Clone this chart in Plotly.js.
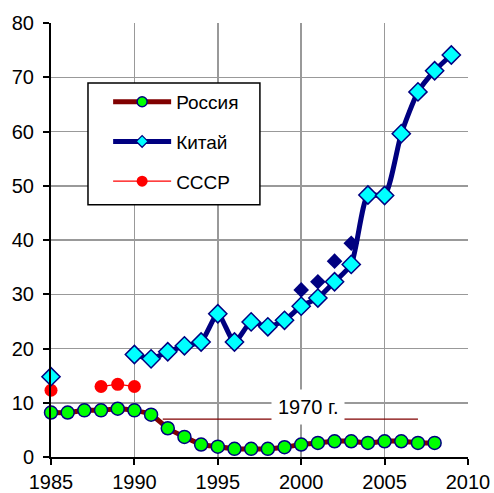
<!DOCTYPE html>
<html><head><meta charset="utf-8">
<script src="https://cdn.plot.ly/plotly-3.0.1.min.js"></script>
<style>html,body{margin:0;padding:0;background:#fff}#c{width:494px;height:493px}</style>
</head><body><div id="c"></div>
<script>
const russiaYears = [1985,1986,1987,1988,1989,1990,1991,1992,1993,1994,1995,1996,1997,1998,1999,2000,2001,2002,2003,2004,2005,2006,2007,2008];
const russiaVals  = [8.2,8.2,8.6,8.6,8.9,8.6,7.8,5.3,3.7,2.3,1.9,1.5,1.5,1.5,1.8,2.3,2.6,2.9,2.9,2.6,2.9,2.9,2.6,2.6];
const chinaYears = [1985,1986,1987,1988,1989,1990,1991,1992,1993,1994,1995,1996,1997,1998,1999,2000,2001,2002,2003,2004,2005,2006,2007,2008,2009];
const chinaVals  = [14.8,null,null,null,null,18.9,18.1,19.4,20.5,21.2,26.4,21.2,24.9,24.0,25.2,27.8,29.3,32.3,35.5,48.3,48.2,59.6,67.3,71.2,74.1];
const chinaAltYears = [2000,2001,2002,2003];
const chinaAltVals  = [30.8,32.3,36.1,39.4];
const ussrYears = [1985,1986,1987,1988,1989,1990];
const ussrVals  = [12.3,null,null,13.0,13.4,13.0];
const level1970Years = [1991.7,2007];
const level1970Vals  = [7.0,7.0];
const level1970Label = '1970 г.';
const names = ['Россия','Китай','СССР'];

const russiaLine = {color:'#800000', width:5, shape:'spline', smoothing:0.6};
const chinaLine = {color:'#000080', width:5, shape:'spline', smoothing:0.6};
const ussrLine = {color:'#ff0000', width:1.3};

const traces = [
  {x: level1970Years, y: level1970Vals, mode:'lines', line:{color:'#800000', width:1.3}, showlegend:false, hoverinfo:'skip'},
  {x: ussrYears, y: ussrVals, mode:'lines+markers', connectgaps:false, showlegend:false,
   line:ussrLine, marker:{symbol:'circle', size:13, color:'#ff0000'}, cliponaxis:false},
  {x: chinaAltYears, y: chinaAltVals, mode:'markers', marker:{symbol:'diamond', size:12, color:'#000080'}, showlegend:false, cliponaxis:false},
  {x: chinaYears, y: chinaVals, mode:'lines+markers', connectgaps:false, showlegend:false,
   line:chinaLine, marker:{symbol:'diamond', size:14, color:'#00ffff', line:{color:'#000080', width:1.5}}, cliponaxis:false},
  {x: russiaYears, y: russiaVals, mode:'lines+markers', showlegend:false,
   line:russiaLine, marker:{symbol:'circle', size:13, color:'#00ff00', line:{color:'#000080', width:1.5}}, cliponaxis:false},
  // legend entries (no visible data)
  {x:[null], y:[null], name:names[0], mode:'lines+markers', line:{color:'#800000', width:5},
   marker:{symbol:'circle', size:10, color:'#00ff00', line:{color:'#000080', width:1.5}}, legendgroup:'a', legendrank:1},
  {x:[null], y:[null], name:names[1], mode:'lines+markers', line:{color:'#000080', width:5},
   marker:{symbol:'diamond', size:9, color:'#00ffff', line:{color:'#000080', width:1.2}}, legendgroup:'b', legendrank:2},
  {x:[null], y:[null], name:names[2], mode:'lines+markers', line:ussrLine,
   marker:{symbol:'circle', size:11, color:'#ff0000'}, legendgroup:'c', legendrank:3}
];

const layout = {
  width:494, height:493,
  margin:{l:51, r:26, t:23, b:36},
  paper_bgcolor:'#fff', plot_bgcolor:'#fff',
  font:{family:'Liberation Sans, Arial, sans-serif', size:20, color:'#000'},
  xaxis:{range:[1985,2010], dtick:5, tick0:1985, showgrid:true, gridcolor:'#999', gridwidth:1.5,
         showline:true, linecolor:'#000', linewidth:2, ticks:'outside', ticklen:6, tickcolor:'#000', tickwidth:2,
         zeroline:false, fixedrange:true},
  yaxis:{range:[0,80], dtick:10, showgrid:true, gridcolor:'#999', gridwidth:1.5,
         showline:true, linecolor:'#000', linewidth:2, ticks:'outside', ticklen:6, tickcolor:'#000', tickwidth:2,
         ticklabelstandoff:5, zeroline:false, fixedrange:true},
  showlegend:true,
  legend:{x:0.137, y:0.862, xanchor:'left', yanchor:'top', bgcolor:'rgba(0,0,0,0)', borderwidth:0,
          font:{size:19}, traceorder:'grouped', tracegroupgap:12, itemwidth:58},
  shapes:[{type:'rect', xref:'paper', yref:'paper', x0:0.0887, x1:0.501, y0:0.581, y1:0.862,
           fillcolor:'#fff', line:{color:'#000', width:1.5}, layer:'above'}],
  annotations:[{x:2000.4, y:9.3, xref:'x', yref:'y', text:level1970Label, showarrow:false,
                font:{size:20}, bgcolor:'#fff', borderpad:6}]
};
Plotly.newPlot('c', traces, layout, {staticPlot:true});
</script></body></html>
